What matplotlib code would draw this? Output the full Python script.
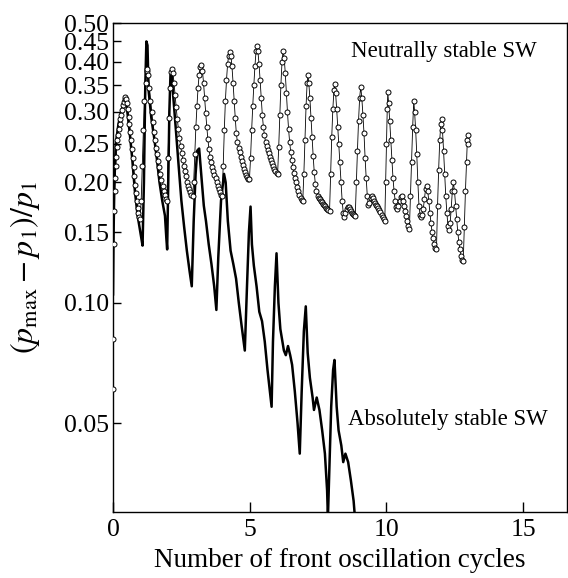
import matplotlib
matplotlib.use('Agg')
import matplotlib.pyplot as plt
from matplotlib.ticker import FixedLocator, FixedFormatter, NullLocator

plt.rcParams['font.family'] = ['Liberation Serif', 'DejaVu Serif']
plt.rcParams['mathtext.fontset'] = 'stix'
plt.rcParams['font.size'] = 16.5

# neutrally stable shock wave (open circles), one line per rise / decay
neutral_x = [0.0, 0.005, 0.02, 0.04, 0.06, 0.08, 0.10, 0.12, 0.14, 0.16, 0.18, 0.21, 0.24, 0.27, 0.30,
             0.33, 0.36, 0.39, 0.42, 0.45, 0.48, 0.51, 0.54, 0.57, 0.60, 0.63, 0.66, 0.69, 0.72, 0.75,
             0.78, 0.81, 0.84, 0.87, 0.90, 0.93, 0.96, 0.99,
             1.03, 1.07, 1.11, 1.15, 1.19, 1.23, 1.26,
             1.29, 1.33, 1.37, 1.41, 1.45, 1.49, 1.53, 1.57, 1.61, 1.65, 1.69, 1.73, 1.77, 1.81, 1.85, 1.89, 1.93, 1.97,
             2.01, 2.05, 2.09, 2.13, 2.16,
             2.19, 2.23, 2.27, 2.31, 2.35, 2.39, 2.43, 2.47, 2.51, 2.55, 2.59, 2.63, 2.67, 2.71, 2.75, 2.79, 2.83, 2.87, 2.91,
             2.95, 2.99, 3.03, 3.07, 3.11, 3.15, 3.19, 3.23,
             3.27, 3.31, 3.35, 3.39, 3.43, 3.47, 3.51, 3.55, 3.59, 3.63, 3.67, 3.71, 3.75, 3.79, 3.83, 3.87, 3.91, 3.95, 3.99,
             4.03, 4.07, 4.11, 4.15, 4.19, 4.23, 4.27,
             4.31, 4.35, 4.39, 4.43, 4.47, 4.51, 4.55, 4.59, 4.63, 4.67, 4.71, 4.75, 4.79, 4.83, 4.87, 4.91, 4.95, 4.99,
             5.03, 5.07, 5.11, 5.15, 5.19, 5.23, 5.26,
             5.30, 5.34, 5.38, 5.42, 5.46, 5.50, 5.54, 5.58, 5.62, 5.66, 5.70, 5.74, 5.78, 5.82, 5.86, 5.90, 5.94, 5.98, 6.02,
             6.06, 6.10, 6.14, 6.18, 6.22,
             6.26, 6.30, 6.34, 6.38, 6.42, 6.46, 6.50, 6.54, 6.58, 6.62, 6.66, 6.70, 6.74, 6.78, 6.82, 6.86, 6.90, 6.94,
             6.98, 7.02, 7.06, 7.10, 7.13,
             7.16, 7.20, 7.24, 7.28, 7.32, 7.36, 7.40, 7.44, 7.48, 7.52, 7.56, 7.60, 7.64, 7.68, 7.72, 7.76, 7.80, 7.84, 7.88, 7.92,
             7.96, 8.00, 8.04, 8.08, 8.11,
             8.14, 8.18, 8.22, 8.26, 8.30, 8.34, 8.38, 8.42, 8.46, 8.50, 8.54, 8.58, 8.62, 8.66, 8.70, 8.74, 8.78, 8.82, 8.86,
             8.90, 8.94, 8.98, 9.02, 9.06,
             9.10, 9.14, 9.18, 9.22, 9.26, 9.30, 9.34, 9.38, 9.42, 9.46, 9.50, 9.54, 9.58, 9.62, 9.66, 9.70, 9.74, 9.78,
             9.82, 9.86, 9.90, 9.94,
             9.97, 10.00, 10.03, 10.05,
             10.08, 10.12, 10.16, 10.20, 10.24, 10.28, 10.32, 10.36, 10.40, 10.44, 10.48, 10.52, 10.56, 10.60, 10.64,
             10.68, 10.72, 10.76, 10.80, 10.84,
             10.88, 10.92, 10.96, 11.00,
             11.03, 11.07, 11.11, 11.15, 11.19, 11.23, 11.27, 11.31, 11.35, 11.39, 11.43, 11.47, 11.51, 11.55, 11.59,
             11.63, 11.67, 11.71, 11.75, 11.79, 11.83,
             11.87, 11.91, 11.95, 11.99, 12.02,
             12.05, 12.09, 12.13, 12.17, 12.21, 12.25, 12.29, 12.33, 12.37, 12.41, 12.45, 12.49, 12.53, 12.57, 12.61,
             12.65, 12.69, 12.73, 12.77, 12.81,
             12.85, 12.89, 12.93, 12.96, 12.99, 13.00]
neutral_y = [0.061, 0.081, 0.14, 0.17, 0.19, 0.205, 0.22, 0.232, 0.245, 0.255, 0.262, 0.272, 0.28, 0.288, 0.295,
             0.303, 0.312, 0.318, 0.324, 0.327, 0.324, 0.315, 0.305, 0.292, 0.28, 0.268, 0.255, 0.243, 0.23, 0.218,
             0.207, 0.197, 0.188, 0.18, 0.173, 0.168, 0.164, 0.162,
             0.18, 0.22, 0.27, 0.32, 0.355, 0.38, 0.385,
             0.37, 0.345, 0.32, 0.30, 0.283, 0.268, 0.255, 0.244, 0.235, 0.226, 0.218, 0.21, 0.203, 0.196, 0.19, 0.186, 0.182, 0.18,
             0.23, 0.29, 0.345, 0.378, 0.385,
             0.375, 0.355, 0.33, 0.308, 0.288, 0.272, 0.258, 0.247, 0.237, 0.228, 0.22, 0.213, 0.207, 0.201, 0.196, 0.192, 0.189, 0.186, 0.185,
             0.20, 0.235, 0.275, 0.31, 0.345, 0.372, 0.388, 0.392,
             0.38, 0.355, 0.325, 0.298, 0.275, 0.256, 0.242, 0.232, 0.225, 0.219, 0.214, 0.209, 0.205, 0.20, 0.196, 0.192, 0.189, 0.186, 0.185,
             0.22, 0.27, 0.32, 0.36, 0.395, 0.415, 0.424,
             0.415, 0.39, 0.355, 0.32, 0.29, 0.265, 0.252, 0.244, 0.238, 0.232, 0.226, 0.221, 0.216, 0.212, 0.209, 0.206, 0.204, 0.204,
             0.23, 0.27, 0.31, 0.35, 0.39, 0.425, 0.438,
             0.425, 0.395, 0.36, 0.325, 0.295, 0.275, 0.262, 0.252, 0.246, 0.241, 0.237, 0.232, 0.228, 0.224, 0.22, 0.216, 0.213, 0.211, 0.21,
             0.245, 0.295, 0.35, 0.40, 0.426,
             0.41, 0.375, 0.335, 0.30, 0.272, 0.252, 0.238, 0.227, 0.218, 0.211, 0.205, 0.20, 0.195, 0.19, 0.186, 0.183, 0.181, 0.18,
             0.21, 0.255, 0.31, 0.355, 0.37,
             0.355, 0.325, 0.29, 0.26, 0.233, 0.212, 0.198, 0.19, 0.185, 0.183, 0.182, 0.18, 0.179, 0.177, 0.176, 0.175, 0.173, 0.172, 0.171, 0.17,
             0.21, 0.26, 0.305, 0.34, 0.353,
             0.335, 0.305, 0.275, 0.25, 0.225, 0.20, 0.18, 0.168, 0.164, 0.168, 0.172, 0.174, 0.174, 0.172, 0.17, 0.168, 0.167, 0.166, 0.165,
             0.20, 0.24, 0.285, 0.325, 0.347,
             0.325, 0.295, 0.265, 0.23, 0.205, 0.185, 0.176, 0.178, 0.183, 0.185, 0.183, 0.18, 0.178, 0.176, 0.175, 0.173, 0.171, 0.169,
             0.166, 0.164, 0.162, 0.16,
             0.20, 0.25, 0.305, 0.336,
             0.315, 0.285, 0.255, 0.228, 0.205, 0.19, 0.18, 0.174, 0.172, 0.175, 0.18, 0.184, 0.185, 0.18, 0.175,
             0.17, 0.165, 0.16, 0.156, 0.153,
             0.185, 0.225, 0.275, 0.32,
             0.30, 0.27, 0.235, 0.20, 0.175, 0.166, 0.164, 0.166, 0.172, 0.182, 0.192, 0.196, 0.19, 0.18, 0.168,
             0.158, 0.15, 0.145, 0.14, 0.137, 0.136,
             0.175, 0.215, 0.255, 0.28, 0.288,
             0.27, 0.24, 0.21, 0.185, 0.168, 0.156, 0.152, 0.158, 0.172, 0.19, 0.20, 0.19, 0.175, 0.162, 0.15,
             0.142, 0.136, 0.131, 0.128, 0.127,
             0.155, 0.19, 0.225, 0.255, 0.262, 0.25]

# absolutely stable shock wave (thick line)
absolute_x = [0.0, 0.02, 0.05, 0.1, 0.2, 0.3, 0.4, 0.45, 0.5, 0.6, 0.7, 0.8, 0.9, 1.0, 1.08,
              1.13, 1.18, 1.22, 1.26, 1.3, 1.4, 1.5, 1.6, 1.7, 1.8, 1.9, 1.95, 1.98,
              2.02, 2.06, 2.1, 2.14, 2.2, 2.3, 2.4, 2.5, 2.6, 2.7, 2.8, 2.88,
              2.95, 3.02, 3.08, 3.15, 3.25, 3.32, 3.4, 3.5, 3.6, 3.7, 3.78,
              3.85, 3.95, 4.06, 4.12, 4.2, 4.3, 4.4, 4.5, 4.6, 4.7, 4.82,
              4.9, 4.97, 5.03, 5.08, 5.15, 5.25, 5.35, 5.45, 5.55, 5.65, 5.8,
              5.85, 5.92, 5.98, 6.05, 6.12, 6.25, 6.32, 6.4, 6.48, 6.55, 6.65, 6.75, 6.83,
              6.9, 6.98, 7.05, 7.12, 7.2, 7.3, 7.35, 7.45, 7.55, 7.65, 7.75, 7.83, 7.86,
              7.92, 7.98, 8.05, 8.1, 8.18, 8.25, 8.35, 8.42, 8.5, 8.6, 8.7, 8.8, 8.85]
absolute_y = [0.105, 0.15, 0.20, 0.25, 0.28, 0.30, 0.32, 0.325, 0.31, 0.27, 0.23, 0.19, 0.165, 0.15, 0.139,
              0.20, 0.35, 0.45, 0.44, 0.34, 0.29, 0.26, 0.23, 0.20, 0.18, 0.165, 0.145, 0.136,
              0.20, 0.30, 0.37, 0.38, 0.33, 0.27, 0.22, 0.18, 0.155, 0.135, 0.12, 0.11,
              0.16, 0.21, 0.24, 0.243, 0.20, 0.175, 0.16, 0.14, 0.125, 0.11, 0.096,
              0.13, 0.18, 0.21, 0.20, 0.16, 0.135, 0.125, 0.115, 0.10, 0.088, 0.076,
              0.11, 0.15, 0.174, 0.14, 0.124, 0.11, 0.095, 0.09, 0.08, 0.068, 0.055,
              0.08, 0.11, 0.133, 0.10, 0.086, 0.076, 0.074, 0.078, 0.074, 0.07, 0.06, 0.05, 0.042,
              0.06, 0.085, 0.098, 0.075, 0.065, 0.058, 0.054, 0.058, 0.054, 0.048, 0.042, 0.034, 0.029,
              0.04, 0.055, 0.068, 0.072, 0.055, 0.048, 0.044, 0.04, 0.042, 0.04, 0.036, 0.032, 0.029]

assert len(neutral_x) == len(neutral_y), (len(neutral_x), len(neutral_y))
assert len(absolute_x) == len(absolute_y), (len(absolute_x), len(absolute_y))

ytick_values = [0.05, 0.10, 0.15, 0.20, 0.25, 0.30, 0.35, 0.40, 0.45, 0.50]
ytick_labels = ['0.05', '0.10', '0.15', '0.20', '0.25', '0.30', '0.35', '0.40', '0.45', '0.50']
xtick_values = [0, 5, 10, 15]

fig = plt.figure(figsize=(5.68, 5.78), dpi=100)
ax = fig.add_axes([0.199, 0.114, 0.799, 0.846])

ax.plot(absolute_x, absolute_y, color='black', lw=1.8, zorder=2)
ax.plot(neutral_x, neutral_y, color='black', lw=0.6, marker='o', markersize=3.6,
        markerfacecolor='white', markeredgecolor='black', markeredgewidth=0.7, zorder=3)

ax.set_yscale('log')
ax.set_ylim(0.03, 0.5)
ax.set_xlim(0, 16.6)
ax.yaxis.set_major_locator(FixedLocator(ytick_values))
ax.yaxis.set_major_formatter(FixedFormatter(ytick_labels))
ax.yaxis.set_minor_locator(NullLocator())
ax.set_xticks(xtick_values)

ax.tick_params(axis='y', direction='in', length=6, width=1, pad=3, labelsize=18.5)
ax.tick_params(axis='x', direction='in', length=7, width=1, pad=5, labelsize=18.5)
for s in ax.spines.values():
    s.set_linewidth(1.0)

ax.text(8.7, 0.425, 'Neutrally stable SW', ha='left', va='center')
ax.text(8.6, 0.051, 'Absolutely stable SW', ha='left', va='center')

ax.set_xlabel('Number of front oscillation cycles', fontsize=19.5, labelpad=5)
ax.set_ylabel(r'$(p_{\max} - p_1)/p_1$', fontsize=23, labelpad=16)

fig.savefig('out.png', dpi=100)
